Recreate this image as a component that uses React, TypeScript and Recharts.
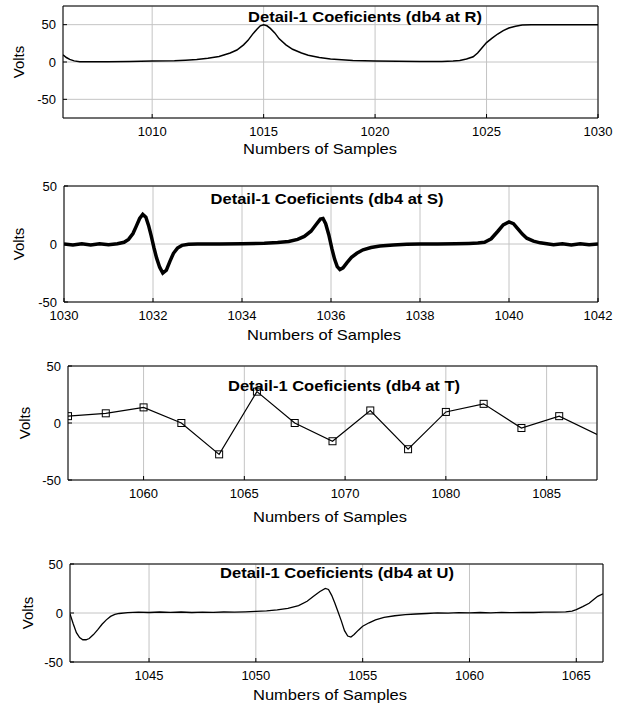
import React from 'react';
import { LineChart, Line, XAxis, YAxis, CartesianGrid, ReferenceArea } from 'recharts';

// Panel R: Detail-1 coefficients (db4 at R)
const R_X = [
  1006, 1006.15, 1006.3, 1006.5, 1006.75, 1007, 1008, 1009, 1010, 1011,
  1011.5, 1012, 1012.5, 1013, 1013.5, 1013.8, 1014.1, 1014.3, 1014.5, 1014.7,
  1014.85, 1015, 1015.15, 1015.3, 1015.5, 1015.7, 1016, 1016.3, 1016.7, 1017,
  1017.5, 1018, 1018.5, 1019, 1020, 1021, 1022, 1023, 1023.5, 1023.8,
  1024.1, 1024.4, 1024.6, 1024.8, 1025, 1025.25, 1025.5, 1025.75, 1026, 1026.3,
  1026.6, 1027, 1028, 1029, 1030,
];
const R_Y = [
  9.5, 6, 3.5, 1.5, 0.5, 0.3, 0.5, 0.8, 1.2, 1.8,
  2.5, 3.5, 5, 7.5, 12, 16, 23, 29, 37, 44,
  48.5, 50, 48.5, 45, 39, 31, 23, 17, 12, 9,
  6, 4, 3, 2, 1.2, 0.9, 0.8, 0.8, 1.2, 2,
  4, 7, 12, 19, 26, 32, 37.5, 42, 45.5, 48,
  49.5, 50, 50, 50, 50,
];

// Panel S
const S_X = [
  1030, 1030.2, 1030.4, 1030.6, 1030.8, 1031, 1031.2, 1031.35, 1031.45, 1031.55,
  1031.62, 1031.7, 1031.77, 1031.84, 1031.9, 1031.96, 1032.02, 1032.08, 1032.15, 1032.22,
  1032.3, 1032.38, 1032.46, 1032.55, 1032.65, 1032.8, 1033, 1033.5, 1034, 1034.5,
  1034.8, 1035.05, 1035.25, 1035.4, 1035.55, 1035.67, 1035.76, 1035.82, 1035.88, 1035.95,
  1036.02, 1036.08, 1036.14, 1036.2, 1036.27, 1036.36, 1036.46, 1036.58, 1036.72, 1036.9,
  1037.1, 1037.4, 1037.7, 1038, 1038.4, 1038.8, 1039.1, 1039.3, 1039.45, 1039.6,
  1039.75, 1039.87, 1040, 1040.1, 1040.2, 1040.3, 1040.4, 1040.55, 1040.7, 1040.85,
  1041, 1041.2, 1041.4, 1041.6, 1041.8, 1042,
];
const S_Y = [
  0, -0.8, 0.3, -0.8, 0.2, -0.6, 0.2, 1.5, 4, 9,
  15, 22, 25.5, 23, 16, 7, -3, -12, -20, -25,
  -22.5, -15, -8, -3.5, -1.2, -0.3, 0, 0, 0.3, 0.6,
  1.2, 2.2, 4, 6.5, 11, 17, 21.5, 22, 17.5, 8,
  -4, -13, -19.5, -22, -20.5, -16, -11.5, -8, -5, -3,
  -1.8, -0.8, -0.2, 0, 0.1, 0.3, 0.5, 0.8, 1.5, 4.5,
  11, 16.5, 19, 17.5, 13, 8.5, 5, 2.5, 1, 0.2,
  -0.6, 0.2, -0.8, 0.2, -0.7, 0,
];

// Panel T (sampled points with square markers)
const T_X = [
  1056.25, 1058.125, 1060, 1061.875, 1063.75, 1065.625, 1067.5, 1069.375,
  1071.25, 1073.125, 1075, 1076.875, 1078.75, 1080.625, 1082.5,
];
const T_Y = [6, 8.5, 13.7, 0, -27.5, 27.5, 0, -16, 11, -23, 9.7, 16.8, -4.4, 6, -10];
const T_TICKS = [1060, 1065, 1070, 1075, 1080];
const T_TICK_LABELS = ['1060', '1065', '1070', '1080', '1085'];

// Panel U
const U_X = [
  1041.3, 1041.45, 1041.6, 1041.75, 1041.9, 1042.05, 1042.2, 1042.4, 1042.6, 1042.8,
  1043, 1043.2, 1043.4, 1043.6, 1044, 1044.5, 1045, 1045.5, 1046, 1046.5,
  1047, 1047.5, 1048, 1048.5, 1049, 1049.5, 1050, 1050.5, 1051, 1051.5,
  1052, 1052.4, 1052.7, 1053, 1053.25, 1053.4, 1053.55, 1053.7, 1053.85, 1054,
  1054.15, 1054.3, 1054.45, 1054.6, 1054.8, 1055, 1055.3, 1055.6, 1056, 1056.5,
  1057, 1057.5, 1058, 1058.5, 1059, 1059.5, 1060, 1060.5, 1061, 1061.5,
  1062, 1062.5, 1063, 1063.5, 1064, 1064.5, 1064.8, 1065, 1065.3, 1065.6,
  1065.8, 1066, 1066.25,
];
const U_Y = [
  -1, -11, -20, -25, -27.3, -27.3, -26, -22, -17, -11.5,
  -7, -3.5, -1.5, -0.5, 0.3, 0.8, 0.5, 1, 0.6, 1,
  0.5, 0.9, 0.6, 1, 0.8, 1.2, 1.6, 2.2, 3.2, 4.8,
  7.5, 12, 17, 22, 25, 24, 18, 10, 1, -8,
  -18, -23.5, -24.5, -22, -17.5, -13.5, -10, -7, -4.5, -2.8,
  -1.7, -1, -0.5, 0.2, -0.2, 0.4, 0.2, 0.5, 0.2, 0.6,
  0.3, 0.6, 0.5, 0.8, 0.8, 1.2, 2, 3.4, 6.5, 10,
  13.5, 17, 19.5,
];

const FONT = 'Arial, "Liberation Sans", Helvetica, sans-serif';

type Box = { left: number; right: number; top: number; bottom: number };

function zip(xs: number[], ys: number[]) {
  const n = Math.min(xs.length, ys.length);
  const out: { x: number; y: number }[] = [];
  for (let i = 0; i < n; i++) out.push({ x: xs[i], y: ys[i] });
  return out;
}

function SquareDot(props: any) {
  const { cx, cy, index, lastIndex } = props;
  if (cx == null || cy == null || index === lastIndex) return <g key={`d${index}`} />;
  return (
    <rect key={`d${index}`} x={cx - 3.5} y={cy - 3.5} width={7} height={7} fill="none" stroke="#000" strokeWidth={1} />
  );
}

interface PanelProps {
  data: { x: number; y: number }[];
  xDomain: [number, number];
  yDomain: [number, number];
  xTicks: number[];
  xTickLabels?: string[];
  box: Box;
  title: string;
  titleX: number;
  titleY: number;
  voltsX: number;
  labelX: number;
  labelY: number;
  strokeWidth: number;
  markers?: boolean;
}

function Panel(p: PanelProps) {
  const { box } = p;
  const padTop = 12;
  const axisH = 30;
  const height = padTop + (box.bottom - box.top) + axisH;
  const tickStyle = { fontSize: 13, fill: '#000', fontFamily: FONT };
  const fmt = (v: number) => {
    if (p.xTickLabels) {
      const i = p.xTicks.indexOf(v);
      if (i >= 0) return p.xTickLabels[i];
    }
    return String(v);
  };
  return (
    <>
      <div style={{ position: 'absolute', left: 0, top: box.top - padTop }}>
        <LineChart
          width={621}
          height={height}
          data={p.data}
          margin={{ top: padTop, right: 621 - box.right, bottom: 0, left: 0 }}
        >
          <CartesianGrid stroke="#c4c4c4" strokeWidth={1} />
          <XAxis
            type="number"
            dataKey="x"
            domain={p.xDomain}
            ticks={p.xTicks}
            interval={0}
            allowDataOverflow
            height={axisH}
            axisLine={false}
            tickSize={-4}
            tickMargin={13}
            tickLine={{ stroke: '#000' }}
            tick={tickStyle}
            tickFormatter={fmt}
          />
          <YAxis
            type="number"
            domain={p.yDomain}
            ticks={[-50, 0, 50]}
            interval={0}
            allowDataOverflow
            width={box.left}
            axisLine={false}
            tickSize={-4}
            tickMargin={11}
            tickLine={{ stroke: '#000' }}
            tick={tickStyle}
          />
          <ReferenceArea
            x1={p.xDomain[0]}
            x2={p.xDomain[1]}
            y1={p.yDomain[0]}
            y2={p.yDomain[1]}
            fill="none"
            stroke="#000"
            strokeWidth={1}
            ifOverflow="visible"
          />
          <Line
            dataKey="y"
            type="linear"
            stroke="#000"
            strokeWidth={p.strokeWidth}
            isAnimationActive={false}
            dot={p.markers ? (props: any) => <SquareDot {...props} lastIndex={p.data.length - 1} /> : false}
            activeDot={false}
          />
        </LineChart>
      </div>
      <div
        style={{
          position: 'absolute',
          left: p.titleX,
          top: p.titleY,
          transform: 'translate(-50%, -50%) scaleX(1.1)',
          fontFamily: FONT,
          fontWeight: 'bold',
          fontSize: 15,
          lineHeight: 1,
          whiteSpace: 'nowrap',
        }}
      >
        {p.title}
      </div>
      <div
        style={{
          position: 'absolute',
          left: p.voltsX,
          top: (box.top + box.bottom) / 2,
          transform: 'translate(-50%, -50%) rotate(-90deg)',
          fontFamily: FONT,
          fontSize: 15,
          lineHeight: 1,
          whiteSpace: 'nowrap',
        }}
      >
        Volts
      </div>
      <div
        style={{
          position: 'absolute',
          left: p.labelX,
          top: p.labelY,
          transform: 'translate(-50%, -50%) scaleX(1.1)',
          fontFamily: FONT,
          fontSize: 15,
          lineHeight: 1,
          whiteSpace: 'nowrap',
        }}
      >
        Numbers of Samples
      </div>
    </>
  );
}

export default function App() {
  return (
    <div style={{ position: 'absolute', left: 0, top: 0, width: 621, height: 704, background: '#fff', overflow: 'hidden' }}>
      <Panel
        data={zip(R_X, R_Y)}
        xDomain={[1006, 1030]}
        yDomain={[-75, 75]}
        xTicks={[1010, 1015, 1020, 1025, 1030]}
        box={{ left: 63, right: 598, top: 6, bottom: 118 }}
        title="Detail-1 Coeficients (db4 at R)"
        titleX={365}
        titleY={16}
        voltsX={18}
        labelX={320}
        labelY={148}
        strokeWidth={1.5}
      />
      <Panel
        data={zip(S_X, S_Y)}
        xDomain={[1030, 1042]}
        yDomain={[-50, 50]}
        xTicks={[1030, 1032, 1034, 1036, 1038, 1040, 1042]}
        box={{ left: 64, right: 598, top: 186, bottom: 302 }}
        title="Detail-1 Coeficients (db4 at S)"
        titleX={327}
        titleY={198}
        voltsX={18}
        labelX={324}
        labelY={334}
        strokeWidth={3.5}
      />
      <Panel
        data={zip(T_X, T_Y)}
        xDomain={[1056.25, 1082.5]}
        yDomain={[-50, 50]}
        xTicks={T_TICKS}
        xTickLabels={T_TICK_LABELS}
        box={{ left: 68, right: 597, top: 366, bottom: 480 }}
        title="Detail-1 Coeficients (db4 at T)"
        titleX={344}
        titleY={385}
        voltsX={24}
        labelX={330}
        labelY={516}
        strokeWidth={1.2}
        markers
      />
      <Panel
        data={zip(U_X, U_Y)}
        xDomain={[1041.3, 1066.25]}
        yDomain={[-50, 50]}
        xTicks={[1045, 1050, 1055, 1060, 1065]}
        box={{ left: 70, right: 603, top: 564, bottom: 662 }}
        title="Detail-1 Coeficients (db4 at U)"
        titleX={337}
        titleY={572}
        voltsX={27}
        labelX={330}
        labelY={694}
        strokeWidth={1.3}
      />
    </div>
  );
}
